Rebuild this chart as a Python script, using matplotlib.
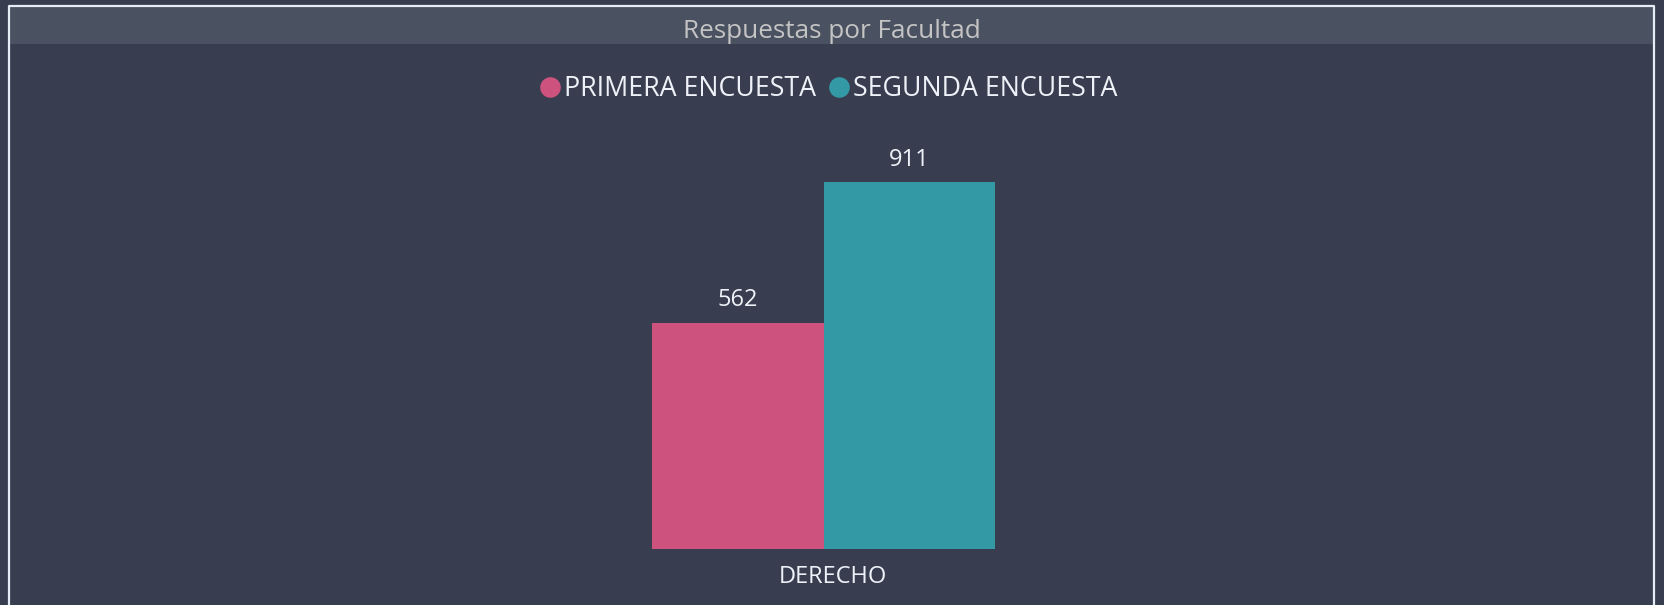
import matplotlib
matplotlib.use("Agg")
import matplotlib.pyplot as plt
from matplotlib.patches import Rectangle
from matplotlib.lines import Line2D
import matplotlib.transforms as mtransforms

# ---- data ----
title = "Respuestas por Facultad"
categories = ["DERECHO"]
series_names = ["PRIMERA ENCUESTA", "SEGUNDA ENCUESTA"]
primera = [562]
segunda = [911]

# ---- style ----
BG = "#383E50"
TITLE_BG = "#4A5161"
BORDER = "#E4ECF6"
PINK = "#CD537E"
TEAL = "#339AA5"
TXT = "#EEF2F8"
TITLE_TXT = "#C4C4C4"
FONT = ["Open Sans", "DejaVu Sans"]
plt.rcParams["font.family"] = FONT

W, H, DPI = 1664, 605, 100
fig = plt.figure(figsize=(W / DPI, H / DPI), dpi=DPI, facecolor=BG)

def px(x0, y0, x1, y1):
    """pixel box (top-left origin) -> figure fraction rect"""
    return [x0 / W, 1 - y1 / H, (x1 - x0) / W, (y1 - y0) / H]

# title bar
fig.patches.append(Rectangle((8 / W, 1 - 44 / H), (1654 - 8) / W, (44 - 6) / H,
                             transform=fig.transFigure, facecolor=TITLE_BG,
                             edgecolor="none", zorder=0))
# border
fig.add_artist(Line2D([8.5 / W, 8.5 / W, 1653.5 / W, 1653.5 / W],
                      [0, 1 - 6 / H, 1 - 6 / H, 0], transform=fig.transFigure,
                      color=BORDER, lw=1.6))
fig.text(832 / W, 1 - 31 / H, title, ha="center", va="center",
         fontsize=18.8, color=TITLE_TXT)

# plot area
ax = fig.add_axes(px(8, 140, 1639, 549))
ax.set_facecolor("none")
ax.set_xlim(-0.5, 0.5)
ax.set_ylim(0, 1015)
bw = 0.1052
xs = list(range(len(categories)))
b1 = ax.bar([x - bw / 2 for x in xs], primera, width=bw, color=PINK, linewidth=0)
b2 = ax.bar([x + bw / 2 for x in xs], segunda, width=bw, color=TEAL, linewidth=0)
for bars, vals in ((b1, primera), (b2, segunda)):
    for r, v in zip(bars, vals):
        ax.annotate(f"{v}", (r.get_x() + r.get_width() / 2, v),
                    xytext=(0, 16), textcoords="offset points",
                    ha="center", va="center", fontsize=17, color=TXT)

for s in ax.spines.values():
    s.set_visible(False)
ax.set_yticks([])
ax.set_xticks(xs)
ax.set_xticklabels(categories, fontsize=17, color=TXT)
ax.tick_params(axis="x", length=0, pad=11.5)
off = mtransforms.ScaledTranslation(9 / DPI, 0, fig.dpi_scale_trans)
for lab in ax.get_xticklabels():
    lab.set_transform(lab.get_transform() + off)

# legend
handles = [Line2D([], [], marker="o", ls="none", markersize=14.8,
                  markerfacecolor=c, markeredgecolor="none") for c in (PINK, TEAL)]
leg = fig.legend(handles, series_names, loc="center", bbox_to_anchor=(827 / W, 1 - 89 / H),
                 ncol=2, frameon=False, fontsize=19.3, handletextpad=0.0,
                 columnspacing=0.34, handlelength=1.04, borderaxespad=0,
                 borderpad=0)
for t in leg.get_texts():
    t.set_color(TXT)

fig.savefig("out.png", dpi=DPI, facecolor=BG)
